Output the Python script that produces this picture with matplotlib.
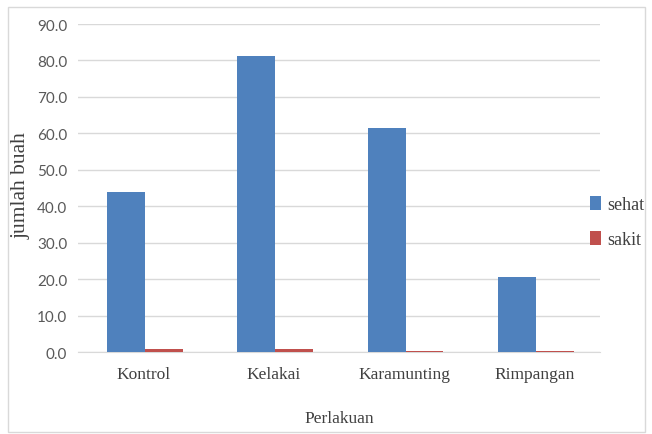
import matplotlib.pyplot as plt
import numpy as np
from matplotlib.patches import Rectangle

# data
categories = ['Kontrol', 'Kelakai', 'Karamunting', 'Rimpangan']
sehat = [43.8, 81.2, 61.4, 20.5]
sakit = [0.8, 0.8, 0.3, 0.3]
yticks = np.arange(0, 91, 10)

fig = plt.figure(figsize=(6.52, 4.35), dpi=100)
ax = fig.add_axes([0.12, 0.1885, 0.80, 0.754])

# light frame around the whole chart area
fig.patches.append(Rectangle((8 / 652, 0.005), 0.99 - 8 / 652, 0.977, transform=fig.transFigure,
                             fill=False, edgecolor='#d9d9d9', linewidth=1.0))

x = np.arange(len(categories))
w = 0.29
ax.bar(x - 0.135, sehat, w, color='#4F81BD', label='sehat', zorder=3)
ax.bar(x + 0.155, sakit, w, color='#C0504D', label='sakit', zorder=3)

ax.set_xlim(-0.5, 3.5)
ax.set_ylim(0, 90)
ax.set_yticks(yticks)
ax.set_yticklabels([f'{v:.1f}' for v in yticks], family='Lato', fontsize=11, color='#595959')
ax.set_xticks(x)
ax.set_xticklabels(categories, family='Liberation Serif', fontsize=12.5, color='#404040')
ax.tick_params(axis='both', length=0)
ax.tick_params(axis='x', pad=10)
ax.tick_params(axis='y', pad=8)

ax.grid(axis='y', color='#d9d9d9', linewidth=1.0, zorder=0)
for s in ['top', 'right', 'left']:
    ax.spines[s].set_visible(False)
ax.spines['bottom'].set_color('#d9d9d9')

ax.set_ylabel('jumlah buah', family='Liberation Serif', fontsize=15.5, color='#404040')
ax.yaxis.set_label_coords(-0.092, 0.51)
ax.set_xlabel('Perlakuan', family='Liberation Serif', fontsize=12.5, color='#404040', labelpad=20)

leg = fig.legend(loc='center left', bbox_to_anchor=(590 / 652, 1 - 223 / 435), frameon=False,
                 prop={'family': 'Liberation Serif', 'size': 13}, handlelength=0.6,
                 handleheight=0.8, handletextpad=0.35, labelspacing=1.0,
                 borderpad=0, borderaxespad=0)
for t in leg.get_texts():
    t.set_color('#404040')

fig.savefig('out.png', dpi=100)
